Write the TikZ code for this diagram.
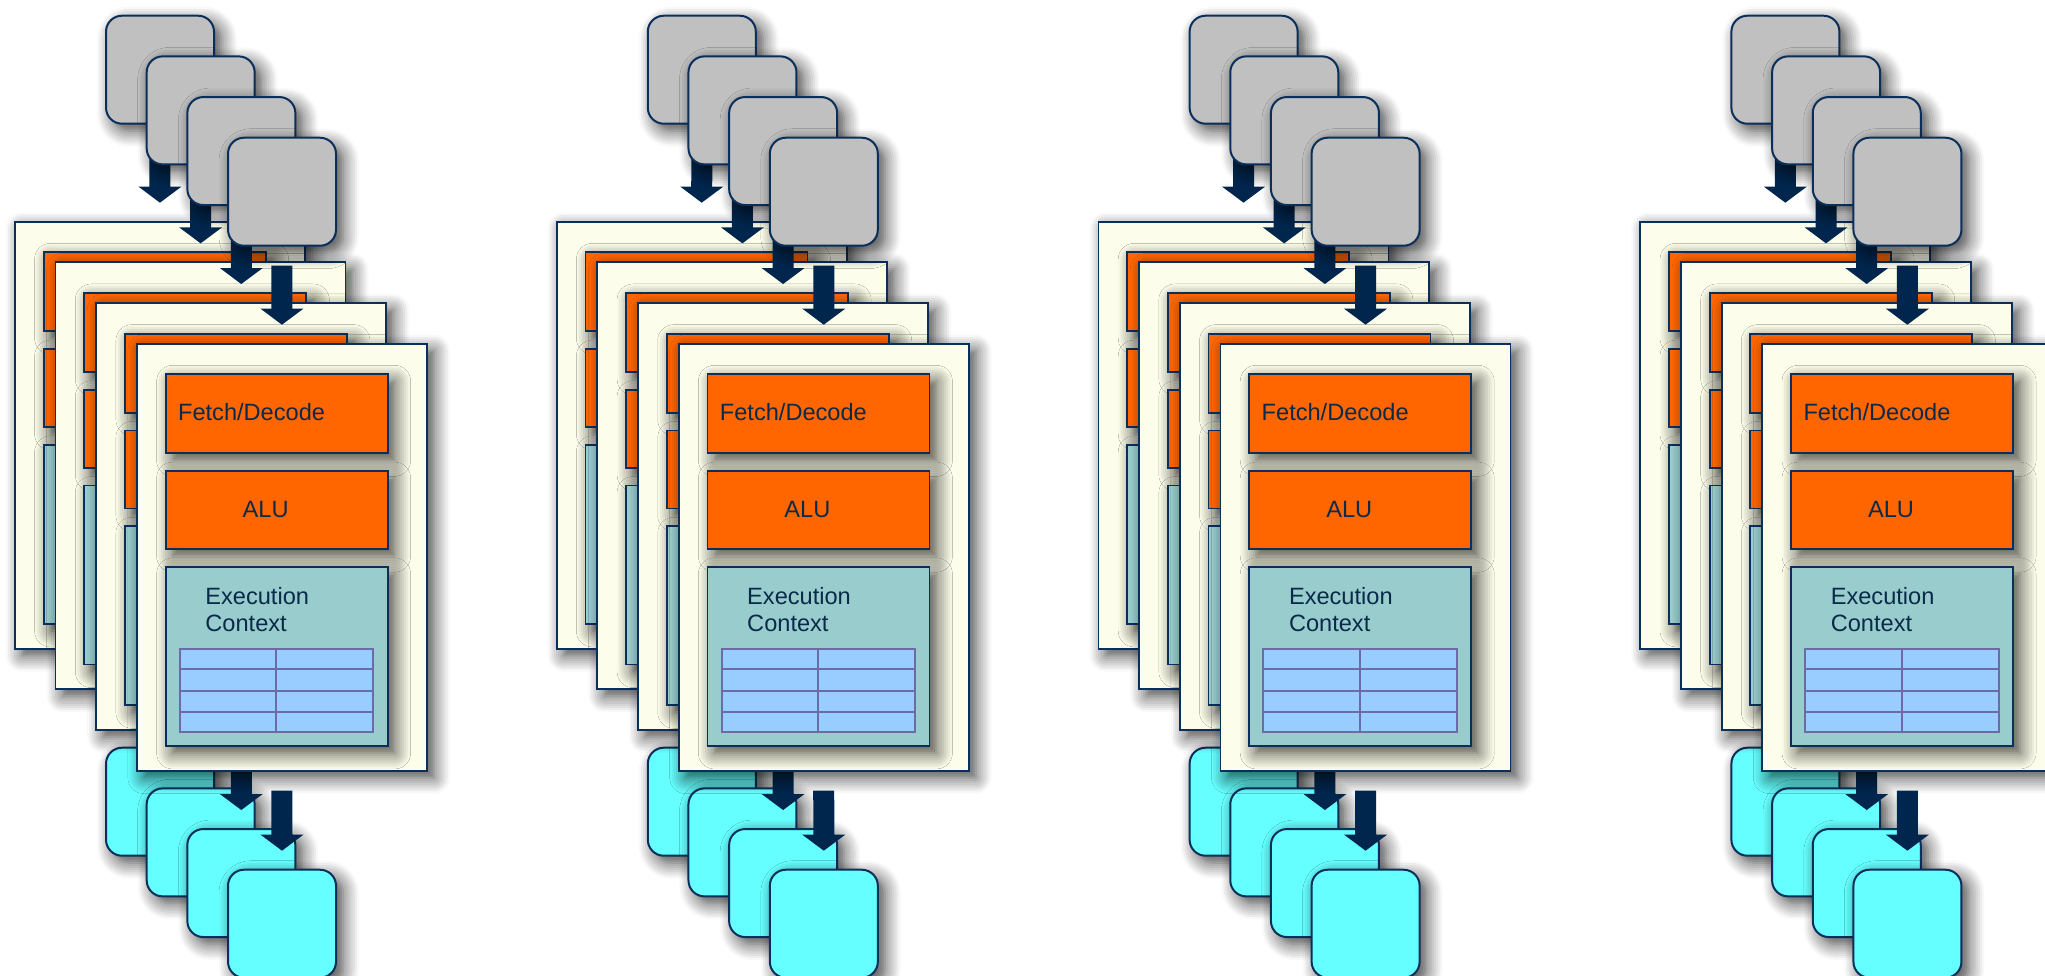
\documentclass[tikz,border=0pt]{standalone}
\usepackage{fontspec}
\setmainfont{Liberation Sans}
\usetikzlibrary{positioning,calc,arrows.meta,shadows.blur}

\definecolor{edge}{HTML}{0B2F5B}
\definecolor{arrowblue}{HTML}{00264D}
\definecolor{inkblue}{HTML}{0A2A4A}
\definecolor{boxgray}{HTML}{C0C0C0}
\definecolor{cream}{HTML}{FDFDEB}
\definecolor{aluorange}{HTML}{FF6600}
\definecolor{ctxteal}{HTML}{99CCCC}
\definecolor{regblue}{HTML}{99CCFF}
\definecolor{regedge}{HTML}{6B6BA8}
\definecolor{outcyan}{HTML}{66FFFF}

\tikzset{
  soft/.style={blur shadow={shadow xshift=3.5pt,shadow yshift=-3.5pt,
      shadow blur radius=8pt,shadow blur steps=8,shadow opacity=75}},
  frag/.style={draw=edge,line width=1pt,rounded corners=8pt,minimum width=54pt,
      minimum height=54pt,inner sep=0pt,anchor=north west,soft},
  inbox/.style={frag,fill=boxgray},
  outbox/.style={frag,fill=outcyan},
  core/.style={draw=edge,line width=0.9pt,fill=cream,minimum width=145pt,
      minimum height=213.5pt,inner sep=0pt,anchor=north west,soft},
  unit/.style={draw=edge,line width=0.9pt,fill=aluorange,minimum width=111pt,
      inner sep=0pt,soft},
  ctxbox/.style={unit,fill=ctxteal,minimum height=89.5pt},
  regs/.style={draw=regedge,line width=1pt,fill=regblue,minimum width=96.7pt,
      minimum height=41.5pt,inner sep=0pt},
  regline/.style={draw=regedge,line width=1pt},
  txt/.style={text=inkblue,font=\fontsize{11.8}{13.5}\selectfont},
  flow/.style={draw=arrowblue,line width=10.5pt,shorten <=9.5pt,shorten >=9pt,
      -{Triangle[width=21pt,length=8pt]}},
}

\begin{document}
\begin{tikzpicture}[x=0.5pt,y=-0.5pt]
  \useasboundingbox (0,0) rectangle (2045,975);
  % four cores, each fed by four stacked fragments
  \foreach \grp in {0,...,3}{
    \foreach \layer in {0,...,3}{
      \pgfmathsetmacro\dx{541.8*\grp+40.67*\layer}
      \pgfmathsetmacro\dy{40.67*\layer}
      % input fragment and core panel
      \node[inbox] (in\grp\layer) at (105+\dx,14.7+\dy) {};
      \node[core] (core\grp\layer) at (14+\dx,220.7+\dy) {};
      \node[unit,minimum height=39.5pt,
            below right=15.35pt and 14.35pt of core\grp\layer.north west,
            label={[txt,anchor=west,inner sep=0pt,xshift=6.5pt,yshift=0.8pt]west:Fetch/Decode}]
            (fetch\grp\layer) {};
      \node[unit,minimum height=39pt,below=8pt of fetch\grp\layer,
            label={[txt,xshift=-5.5pt,yshift=0.5pt]center:ALU}] (alu\grp\layer) {};
      \node[ctxbox,below=8pt of alu\grp\layer] (ctx\grp\layer) {};
      \node[txt,anchor=north west,inner sep=0pt,align=left,
            below right=10.5pt and 20.15pt of ctx\grp\layer.north west]
            (ctxlbl\grp\layer) {Execution\\Context};
      % register file: 4 rows x 2 columns
      \node[regs,below right=41pt and 7pt of ctx\grp\layer.north west] (regs\grp\layer) {};
      \draw[regline] (regs\grp\layer.north) -- (regs\grp\layer.south);
      \foreach \f in {0.25,0.5,0.75}
        \draw[regline] ($(regs\grp\layer.north west)!\f!(regs\grp\layer.south west)$)
          -- ($(regs\grp\layer.north east)!\f!(regs\grp\layer.south east)$);
      \draw[flow] (in\grp\layer.south) -- (core\grp\layer.north);
      % output fragment
      \node[outbox] (out\grp\layer) at (105+\dx,746.7+\dy) {};
      \draw[flow] (core\grp\layer.south) -- (out\grp\layer.north);
    }
  }
\end{tikzpicture}
\end{document}
